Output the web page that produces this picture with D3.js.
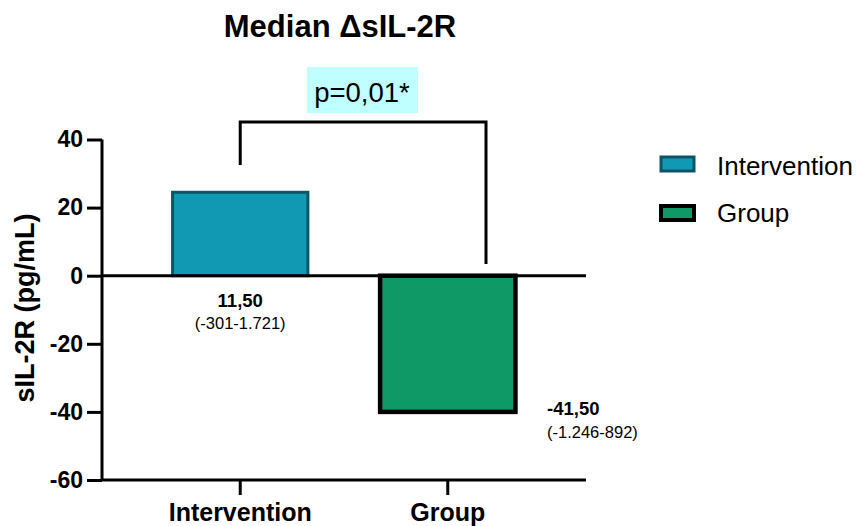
<!DOCTYPE html>
<html>
<head>
  <script src="https://d3js.org/d3.v7.min.js"></script>
  <style>
    body { margin: 0; background: #fff; font-family: "Liberation Sans", Arial, sans-serif; }
  </style>
</head>
<body>
<script>
// chart data
var categories = ["Intervention", "Group"];
var barValues = [24.5, -40];
var medianLabels = ["11,50", "-41,50"];
var rangeLabels = ["(-301-1.721)", "(-1.246-892)"];
var yTicks = [40, 20, 0, -20, -40, -60];
var fills = ["#1199b4", "#0f9966"];
var strokes = ["#0c5467", "#000000"];
var pText = "p=0,01*";

var width = 856, height = 526;
var svg = d3.select("body").append("svg")
  .attr("width", width).attr("height", height);

var y = d3.scaleLinear().domain([-60, 40]).range([480, 139.5]);
var x = d3.scaleBand().domain(categories).range([102, 586])
  .paddingInner(0.348).paddingOuter(0.34);

// title
svg.append("text").attr("x", 340).attr("y", 37)
  .attr("text-anchor", "middle").attr("font-size", 31).attr("font-weight", "bold")
  .text("Median ΔsIL-2R");

// bars
svg.selectAll("rect.bar").data(categories).enter().append("rect")
  .attr("class", "bar")
  .attr("x", d => x(d))
  .attr("width", x.bandwidth())
  .attr("y", (d, i) => Math.min(y(barValues[i]), y(0)))
  .attr("height", (d, i) => Math.abs(y(barValues[i]) - y(0)))
  .attr("fill", (d, i) => fills[i])
  .attr("stroke", (d, i) => strokes[i])
  .attr("stroke-width", (d, i) => i == 0 ? 3 : 4.5);

// zero line
svg.append("line").attr("x1", 102).attr("x2", 586)
  .attr("y1", y(0)).attr("y2", y(0))
  .attr("stroke", "#000").attr("stroke-width", 3);

// y axis
var yAxis = svg.append("g").attr("transform", "translate(102,0)")
  .call(d3.axisLeft(y).tickValues(yTicks).tickFormat(d => String(d)).tickSize(15).tickPadding(4));
yAxis.select(".domain").attr("stroke-width", 3).attr("d", "M0," + y(40) + "V" + y(-60));
yAxis.selectAll(".tick line").attr("stroke-width", 3);
yAxis.selectAll(".tick text").attr("font-size", 23).attr("font-weight", "bold")
  .attr("font-family", "Liberation Sans, Arial, sans-serif").attr("fill", "#000");

// x axis
var xAxis = svg.append("g").attr("transform", "translate(0,480)")
  .call(d3.axisBottom(x).tickSize(15).tickPadding(8));
xAxis.select(".domain").attr("stroke-width", 3).attr("d", "M102,0H586");
xAxis.selectAll(".tick line").attr("stroke-width", 3);
xAxis.selectAll(".tick text").attr("font-size", 25).attr("font-weight", "bold")
  .attr("font-family", "Liberation Sans, Arial, sans-serif").attr("fill", "#000");

// y label
svg.append("text")
  .attr("transform", "translate(34,308) rotate(-90)")
  .attr("text-anchor", "middle").attr("font-size", 27).attr("font-weight", "bold")
  .text("sIL-2R (pg/mL)");

// value annotations
var xc0 = x(categories[0]) + x.bandwidth() / 2;
svg.append("text").attr("x", xc0).attr("y", 307).attr("text-anchor", "middle")
  .attr("font-size", 18.5).attr("font-weight", "bold").text(medianLabels[0]);
svg.append("text").attr("x", xc0).attr("y", 329).attr("text-anchor", "middle")
  .attr("font-size", 16.5).text(rangeLabels[0]);
svg.append("text").attr("x", 547).attr("y", 415)
  .attr("font-size", 18.5).attr("font-weight", "bold").text(medianLabels[1]);
svg.append("text").attr("x", 547).attr("y", 438)
  .attr("font-size", 16.5).text(rangeLabels[1]);

// significance bracket
svg.append("path")
  .attr("d", "M" + xc0 + ",165V122H486V264")
  .attr("fill", "none").attr("stroke", "#000").attr("stroke-width", 3);
svg.append("rect").attr("x", 307).attr("y", 67).attr("width", 111).attr("height", 46)
  .attr("fill", "#c0ffff");
svg.append("text").attr("x", 362).attr("y", 102).attr("text-anchor", "middle")
  .attr("font-size", 27.5).text(pText);

// legend
var legend = svg.selectAll("g.leg").data(categories).enter().append("g")
  .attr("transform", (d, i) => "translate(661," + (157 + i * 49) + ")");
legend.append("rect").attr("width", 33).attr("height", 14)
  .attr("fill", (d, i) => fills[i]).attr("stroke", (d, i) => strokes[i])
  .attr("stroke-width", (d, i) => i == 0 ? 3 : 4);
legend.append("text").attr("x", 56).attr("y", (d, i) => i == 0 ? 18 : 16).attr("font-size", 26)
  .text(d => d);
</script>
</body>
</html>
